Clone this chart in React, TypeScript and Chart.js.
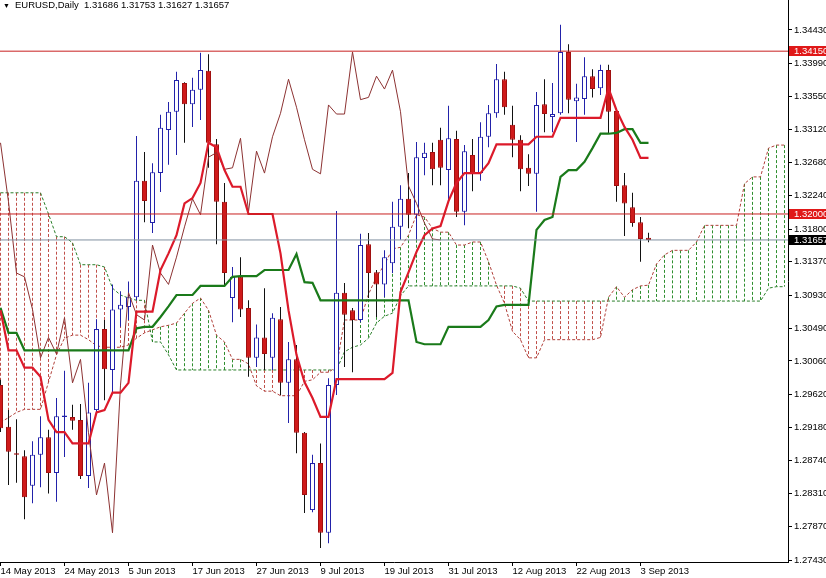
import React, { useEffect, useRef } from "react";
import { Chart, registerables } from "chart.js";

Chart.register(...registerables);

// ---------- data (EURUSD daily, bar index 0 = 14 May 2013) ----------
const dateTickBars = [0, 8, 16, 24, 32, 40, 48, 56, 64, 72, 80];
const dateLabels = [
  "14 May 2013", "24 May 2013", "5 Jun 2013", "17 Jun 2013", "27 Jun 2013", "9 Jul 2013",
  "19 Jul 2013", "31 Jul 2013", "12 Aug 2013", "22 Aug 2013", "3 Sep 2013",
];
const priceTicks = [
  1.2743, 1.2787, 1.2831, 1.2874, 1.2918, 1.2962, 1.3006, 1.3049, 1.3093,
  1.3137, 1.318, 1.3224, 1.3268, 1.3312, 1.3355, 1.3399, 1.3443,
];

const opens = [
  1.2974, 1.2919, 1.2884, 1.288, 1.2841, 1.2882, 1.2905, 1.2858, 1.2932, 1.2932,
  1.2928, 1.2854, 1.2941, 1.3048, 1.2994, 1.3074, 1.3077, 1.309, 1.3244, 1.3188,
  1.3254, 1.3311, 1.3335, 1.3373, 1.3345, 1.3364, 1.3389, 1.3292, 1.3216, 1.3089,
  1.3117, 1.3076, 1.301, 1.3037, 1.301, 1.3061, 1.2977, 1.3008, 1.2911, 1.2809,
  1.2871, 1.2779, 1.2974, 1.3096, 1.3073, 1.306, 1.316, 1.3123, 1.3107, 1.3135,
  1.3183, 1.322, 1.3199, 1.3274, 1.3282, 1.3298, 1.3258, 1.3299, 1.3203, 1.3278,
  1.3254, 1.3302, 1.3333, 1.3378, 1.3318, 1.3298, 1.3261, 1.3253, 1.3345, 1.3328,
  1.3333, 1.3414, 1.3349, 1.3352, 1.3382, 1.3366, 1.339, 1.3336, 1.3238, 1.3209,
  1.3189, 1.31686,
];
const highs = [
  1.2981, 1.2941, 1.2929, 1.2888, 1.29, 1.2933, 1.2915, 1.2957, 1.2993, 1.2948,
  1.2949, 1.2977, 1.3061, 1.306, 1.3107, 1.3098, 1.3111, 1.3303, 1.3282, 1.3267,
  1.3331, 1.3348, 1.3388, 1.3374, 1.338, 1.3413, 1.3411, 1.3299, 1.3241, 1.313,
  1.3143, 1.3086, 1.3054, 1.3102, 1.3069, 1.3077, 1.3031, 1.3027, 1.2912, 1.2882,
  1.2897, 1.2983, 1.3204, 1.3109, 1.3076, 1.3174, 1.3175, 1.3126, 1.3152, 1.3216,
  1.3238, 1.3254, 1.3295, 1.3294, 1.3294, 1.3314, 1.3343, 1.331, 1.3291, 1.3299,
  1.3321, 1.3344, 1.3398, 1.3388, 1.3343, 1.3304, 1.3279, 1.3361, 1.3378, 1.3373,
  1.345, 1.3424, 1.3372, 1.3407, 1.3391, 1.3397, 1.3397, 1.334, 1.3254, 1.3228,
  1.3196, 1.31753,
];
const lows = [
  1.2912, 1.2842, 1.2845, 1.2797, 1.2818, 1.2839, 1.2831, 1.282, 1.2879, 1.2915,
  1.285, 1.2838, 1.2937, 1.2954, 1.2965, 1.3051, 1.306, 1.3086, 1.3189, 1.3175,
  1.3229, 1.3265, 1.3278, 1.3294, 1.3315, 1.3324, 1.3261, 1.316, 1.3106, 1.3057,
  1.3064, 1.2985, 1.2998, 1.2994, 1.2994, 1.2961, 1.2924, 1.2884, 1.2805, 1.2806,
  1.2759, 1.2765, 1.2961, 1.2998, 1.2991, 1.3057, 1.3089, 1.3064, 1.309, 1.3122,
  1.3166, 1.3181, 1.3166, 1.3251, 1.3238, 1.3238, 1.3218, 1.3196, 1.3185, 1.323,
  1.3244, 1.3288, 1.3327, 1.3331, 1.3275, 1.323, 1.3237, 1.3203, 1.3308, 1.3308,
  1.3331, 1.3333, 1.3295, 1.3331, 1.3354, 1.3357, 1.3307, 1.3216, 1.3171, 1.3183,
  1.3137, 1.31627,
];
const closes = [
  1.2917, 1.2886, 1.2882, 1.2826, 1.2882, 1.2905, 1.2858, 1.2933, 1.2934, 1.2927,
  1.2854, 1.2938, 1.3048, 1.2995, 1.3074, 1.308, 1.309, 1.3244, 1.3217, 1.3255,
  1.3314, 1.3335, 1.3377, 1.3345, 1.3364, 1.339, 1.3294, 1.3216, 1.3122, 1.3117,
  1.3074, 1.301, 1.3037, 1.3015, 1.3063, 1.2977, 1.3008, 1.2911, 1.2829, 1.2871,
  1.2779, 1.2974, 1.3096, 1.3067, 1.306, 1.3159, 1.3122, 1.3107, 1.3143, 1.3183,
  1.322, 1.3199, 1.3275, 1.3281, 1.3259, 1.3261, 1.33, 1.3203, 1.3283, 1.3254,
  1.3302, 1.3333, 1.3378, 1.3341, 1.3298, 1.3259, 1.3253, 1.3344, 1.3332, 1.3332,
  1.3414, 1.3351, 1.3354, 1.3382, 1.3365, 1.339, 1.3335, 1.3237, 1.3214, 1.3188,
  1.3167, 1.31657,
];

const tenkan = [
  1.3073, 1.302, 1.302, 1.2997, 1.2997, 1.2985, 1.2928, 1.2912, 1.2912, 1.2897,
  1.2897, 1.2897, 1.2938, 1.2941, 1.2964, 1.2964, 1.2977, 1.3071, 1.3071, 1.3071,
  1.3126, 1.3148, 1.3172, 1.3214, 1.3221, 1.3241, 1.3294, 1.3288, 1.3258, 1.3236,
  1.3236, 1.32, 1.32, 1.32, 1.32, 1.3148, 1.3073, 1.3014, 1.2978, 1.2957,
  1.2932, 1.2932, 1.2982, 1.2982, 1.2982, 1.2982, 1.2982, 1.2982, 1.2982, 1.299,
  1.3097, 1.3123, 1.315, 1.3172, 1.3181, 1.3184, 1.3217, 1.3241, 1.3254, 1.3254,
  1.3254, 1.3267, 1.3292, 1.3292, 1.3292, 1.3292, 1.3292, 1.3302, 1.3302, 1.3302,
  1.3327, 1.3327, 1.3327, 1.3327, 1.3327, 1.3327, 1.3366, 1.3337, 1.3315, 1.3298,
  1.3274, 1.3274,
];
const kijun = [
  1.3076, 1.3043, 1.3043, 1.302, 1.302, 1.302, 1.302, 1.302, 1.302, 1.302,
  1.302, 1.302, 1.302, 1.302, 1.302, 1.302, 1.302, 1.3049, 1.3051, 1.3051,
  1.3064, 1.3078, 1.3093, 1.3093, 1.3093, 1.3105, 1.3105, 1.3105, 1.3105, 1.3117,
  1.3118, 1.3118, 1.3118, 1.3126, 1.3126, 1.3126, 1.3126, 1.3147, 1.311, 1.3109,
  1.3086, 1.3086, 1.3086, 1.3086, 1.3086, 1.3086, 1.3086, 1.3086, 1.3086, 1.3086,
  1.3086, 1.3086, 1.3031, 1.3028, 1.3028, 1.3028, 1.3051, 1.3051, 1.3051, 1.3051,
  1.3051, 1.306, 1.3078, 1.308, 1.308, 1.308, 1.308, 1.3179, 1.3192, 1.3196,
  1.3249, 1.3258, 1.3258, 1.3269, 1.3287, 1.3306, 1.3306, 1.3307, 1.3312, 1.3312,
  1.3294, 1.3294,
];
const senkouA = [
  1.2925, 1.2931, 1.2938, 1.2942, 1.2942, 1.2942, 1.2978, 1.3014, 1.3036, 1.304,
  1.304, 1.3034, 1.3026, 1.3024, 1.3024, 1.3024, 1.3027, 1.3036, 1.3043, 1.3047,
  1.3051, 1.3053, 1.3056, 1.3069, 1.3082, 1.3089, 1.3073, 1.304, 1.3031, 1.3008,
  1.3008, 1.3002, 1.2973, 1.2966, 1.2966, 1.296, 1.296, 1.296, 1.2979, 1.2981,
  1.2991, 1.2991, 1.2998, 1.306, 1.306, 1.306, 1.3094, 1.3117, 1.3133, 1.3154,
  1.3156, 1.3172, 1.3199, 1.3196, 1.3181, 1.3176, 1.3176, 1.3159, 1.3159, 1.3163,
  1.3163, 1.3137, 1.3106, 1.3082, 1.3045, 1.3034, 1.301, 1.301, 1.3034, 1.3034,
  1.3034, 1.3034, 1.3034, 1.3034, 1.3034, 1.3037, 1.309, 1.3104, 1.309, 1.31,
  1.3105, 1.3106, 1.3134, 1.3146, 1.3152, 1.3152, 1.3152, 1.3163, 1.3185, 1.3185,
  1.3185, 1.3185, 1.3185, 1.324, 1.3249, 1.3249, 1.3287, 1.3291, 1.3291,
];
const senkouB = [
  1.3228, 1.3228, 1.3228, 1.3228, 1.3228, 1.3228, 1.32, 1.317, 1.317, 1.3162,
  1.3133, 1.3133, 1.3133, 1.313, 1.3102, 1.3093, 1.3089, 1.3086, 1.3086, 1.3031,
  1.3031, 1.3014, 1.2994, 1.2994, 1.2994, 1.2994, 1.2994, 1.2994, 1.2994, 1.2994,
  1.2994, 1.2994, 1.2994, 1.2994, 1.2994, 1.2994, 1.2994, 1.2994, 1.2994, 1.2994,
  1.2994, 1.2994, 1.2994, 1.3018, 1.3024, 1.3027, 1.3036, 1.3056, 1.3065, 1.3069,
  1.3092, 1.3105, 1.3105, 1.3105, 1.3105, 1.3105, 1.3105, 1.3105, 1.3105, 1.3105,
  1.3105, 1.3105, 1.3105, 1.3105, 1.3105, 1.3102, 1.3085, 1.3085, 1.3085, 1.3085,
  1.3085, 1.3085, 1.3085, 1.3085, 1.3085, 1.3085, 1.3085, 1.3085, 1.3085, 1.3085,
  1.3085, 1.3085, 1.3085, 1.3085, 1.3085, 1.3085, 1.3085, 1.3085, 1.3085, 1.3085,
  1.3085, 1.3085, 1.3085, 1.3085, 1.3085, 1.3085, 1.3102, 1.3104, 1.3104,
];
const chikouShift = 26;
const levelLines = [1.3415, 1.32];
const bidPrice = 1.31657;
const headerText = "EURUSD,Daily  1.31686 1.31753 1.31627 1.31657";

// ---------- layout / style ----------
const W = 826;
const H = 578;
const X_MIN = -0.0625;
const X_MAX = 98.4375;
const Y_MIN = 1.27404;
const Y_MAX = 1.34826;
const FONT = '"Liberation Sans", Arial, sans-serif';

const BULL = "#2222aa";
const BEAR = "#cf1a1a";
const KUMO_RED = "#c0504a";
const KUMO_GREEN = "#2f8f2f";

const kumoPlugin = {
  id: "kumo",
  beforeDatasetsDraw(chart: any) {
    const { ctx, chartArea, scales } = chart;
    const x = scales.x;
    const y = scales.y;
    ctx.save();
    ctx.beginPath();
    ctx.rect(chartArea.left, chartArea.top, chartArea.right - chartArea.left, chartArea.bottom - chartArea.top);
    ctx.clip();
    ctx.lineWidth = 1;
    ctx.setLineDash([3, 2]);
    senkouA.forEach((a, k) => {
      const b = senkouB[k];
      const px = x.getPixelForValue(k);
      ctx.strokeStyle = a >= b ? KUMO_GREEN : KUMO_RED;
      ctx.beginPath();
      ctx.moveTo(px, y.getPixelForValue(Math.max(a, b)));
      ctx.lineTo(px, y.getPixelForValue(Math.min(a, b)));
      ctx.stroke();
    });
    ctx.restore();
  },
};

const tagPlugin = {
  id: "priceTags",
  afterDraw(chart: any) {
    const { ctx, chartArea, scales } = chart;
    const y = scales.y;
    const tags = [
      { v: levelLines[0], bg: "#e01818" },
      { v: levelLines[1], bg: "#e01818" },
      { v: bidPrice, bg: "#000000" },
    ];
    ctx.save();
    ctx.font = `9.5px ${FONT}`;
    ctx.textBaseline = "middle";
    ctx.textAlign = "left";
    tags.forEach((t) => {
      const py = Math.round(y.getPixelForValue(t.v));
      ctx.fillStyle = t.bg;
      ctx.fillRect(chartArea.right + 1, py - 5, W - chartArea.right - 1, 10);
      ctx.fillStyle = "#ffffff";
      ctx.fillText(t.v.toFixed(5), chartArea.right + 6, py + 0.5);
    });
    ctx.restore();
  },
};

function seriesPoints(arr: number[], shift = 0) {
  return arr.map((v, k) => ({ x: k + shift, y: v }));
}

export default function App() {
  const ref = useRef<HTMLCanvasElement>(null);

  useEffect(() => {
    const canvas = ref.current;
    if (!canvas) return;
    const bull = closes.map((c, k) => c >= opens[k]);

    const hline = (v: number, color: string) => ({
      type: "line" as const,
      data: [
        { x: X_MIN - 1, y: v },
        { x: X_MAX + 1, y: v },
      ],
      borderColor: color,
      borderWidth: 1,
      pointRadius: 0,
      clip: 0,
      order: 0,
    });

    const chart = new Chart(canvas, {
      type: "bar",
      data: {
        datasets: [
          hline(levelLines[0], "#c82020"),
          hline(levelLines[1], "#c82020"),
          hline(bidPrice, "#8090a0"),
          {
            type: "line",
            data: seriesPoints(tenkan),
            borderColor: "#dc1a2a",
            borderWidth: 2.2,
            pointRadius: 0,
            tension: 0,
            order: 1,
          } as any,
          {
            type: "line",
            data: seriesPoints(kijun),
            borderColor: "#1a7a1a",
            borderWidth: 2.2,
            pointRadius: 0,
            tension: 0,
            order: 1,
          } as any,
          {
            type: "line",
            data: closes.slice(chikouShift).map((c, i) => ({ x: i, y: c })),
            borderColor: "#8c3232",
            borderWidth: 1,
            pointRadius: 0,
            tension: 0,
            order: 2,
          } as any,
          {
            type: "bar",
            data: closes.map((c, k) => ({ x: k, y: [opens[k], c] })),
            backgroundColor: bull.map((b) => (b ? "#ffffff" : BEAR)),
            borderColor: bull.map((b) => (b ? BULL : "#a01010")),
            borderWidth: 1,
            borderSkipped: false,
            barThickness: 5,
            grouped: false,
            inflateAmount: 0,
            order: 3,
          } as any,
          {
            type: "bar",
            data: closes.map((c, k) => ({ x: k, y: [lows[k], highs[k]] })),
            backgroundColor: bull.map((b) => (b ? BULL : "#111111")),
            borderWidth: 0,
            barThickness: 1,
            grouped: false,
            inflateAmount: 0,
            order: 4,
          } as any,
          {
            type: "line",
            data: seriesPoints(senkouA),
            borderColor: "#b0403a",
            borderWidth: 1,
            borderDash: [3, 2],
            pointRadius: 0,
            tension: 0,
            order: 5,
          } as any,
          {
            type: "line",
            data: seriesPoints(senkouB),
            borderColor: "#2a7f2a",
            borderWidth: 1,
            borderDash: [3, 2],
            pointRadius: 0,
            tension: 0,
            order: 5,
          } as any,
        ],
      },
      options: {
        responsive: false,
        animation: false,
        devicePixelRatio: 1,
        events: [],
        layout: { padding: 0 },
        plugins: {
          legend: { display: false },
          tooltip: { enabled: false },
        },
        scales: {
          x: {
            type: "linear",
            min: X_MIN,
            max: X_MAX,
            bounds: "data",
            offset: false,
            grid: {
              display: true,
              offset: false,
              drawOnChartArea: false,
              drawTicks: true,
              tickLength: 4,
              color: "#000000",
            },
            border: { display: true, color: "#000000", width: 1 },
            ticks: {
              autoSkip: false,
              maxRotation: 0,
              minRotation: 0,
              align: "start",
              padding: 0,
              color: "#000000",
              font: { family: FONT, size: 9.5 },
              callback: (_v: any, i: number) => dateLabels[i] ?? "",
            },
            afterBuildTicks: (s: any) => {
              s.ticks = dateTickBars.map((v) => ({ value: v }));
            },
            afterFit: (s: any) => {
              s.height = 16;
              s.paddingLeft = 0;
              s.paddingRight = 0;
            },
          } as any,
          y: {
            type: "linear",
            position: "right",
            min: Y_MIN,
            max: Y_MAX,
            bounds: "data",
            grid: {
              display: true,
              drawOnChartArea: false,
              drawTicks: true,
              tickLength: 4,
              color: "#000000",
            },
            border: { display: true, color: "#000000", width: 1 },
            ticks: {
              autoSkip: false,
              padding: 2,
              color: "#000000",
              font: { family: FONT, size: 9.5 },
              callback: (v: any) => Number(v).toFixed(5),
            },
            afterBuildTicks: (s: any) => {
              s.ticks = priceTicks.map((v) => ({ value: v }));
            },
            afterFit: (s: any) => {
              s.width = 38;
              s.paddingTop = 0;
              s.paddingBottom = 0;
            },
          } as any,
        },
      } as any,
      plugins: [kumoPlugin, tagPlugin],
    });

    return () => chart.destroy();
  }, []);

  return (
    <div style={{ position: "absolute", left: 0, top: 0, width: W, height: H, background: "#ffffff", overflow: "hidden" }}>
      <canvas ref={ref} width={W} height={H} style={{ display: "block", width: W, height: H }} />
      <div
        style={{
          position: "absolute",
          left: 3,
          top: -1,
          font: `9.5px ${FONT}`,
          lineHeight: "12px",
          color: "#000000",
          whiteSpace: "pre",
        }}
      >
        <span style={{ fontSize: 7, marginRight: 5 }}>▼</span>
        {headerText}
      </div>
    </div>
  );
}
